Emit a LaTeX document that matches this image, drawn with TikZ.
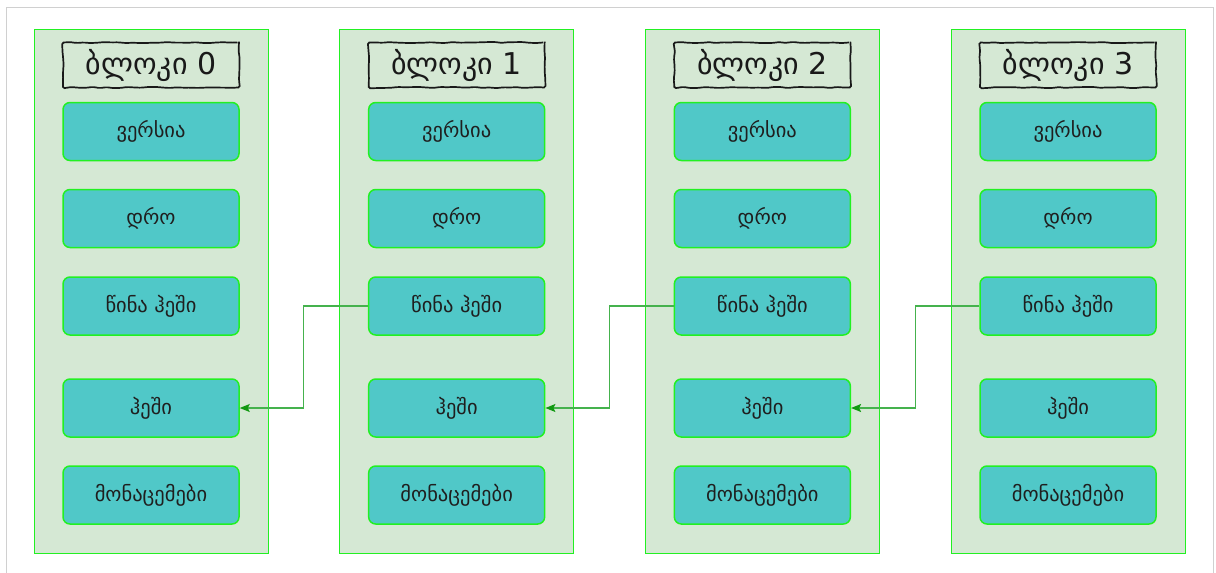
\documentclass[tikz,border=0pt]{standalone}
\usepackage{fontspec}
\newfontfamily\geo{DejaVu Sans}
\usetikzlibrary{decorations.pathmorphing,arrows.meta,calc}

\definecolor{colfill}{HTML}{D5E8D4}
\definecolor{edgegreen}{HTML}{22F022}
\definecolor{cellfill}{HTML}{50C8C8}
\definecolor{linkgreen}{HTML}{45B24D}
\definecolor{tipgreen}{HTML}{119911}
\definecolor{framegray}{HTML}{D0D0D0}

\tikzset{
  column/.style={draw=edgegreen, fill=colfill, line width=1pt,
    minimum width=234pt, minimum height=524pt, inner sep=0pt},
  cell/.style={draw=edgegreen, fill=cellfill, line width=1.5pt,
    rounded corners=7pt, minimum width=176pt, minimum height=58pt,
    inner sep=0pt, text=black!88, font=\geo\fontsize{20.5}{24}\selectfont},
  title/.style={draw=black!90, line width=1.7pt, minimum width=176pt,
    minimum height=45pt, inner sep=0pt,
    decorate, decoration={random steps, segment length=7pt, amplitude=0.6pt},
    rounded corners=1.5pt,
    text=black!90, font=\geo\fontsize{30}{32}\selectfont},
  link/.style={draw=linkgreen, line width=1.3pt,
    -{Stealth[length=10pt, width=8pt, inset=2pt, color=tipgreen]}}
}

\begin{document}
\begin{tikzpicture}[x=1pt, y=-1pt]
\pgfmathsetseed{7}
\useasboundingbox (0,0) rectangle (1216,573);
\coordinate (fa) at (6,575);
\coordinate (fb) at (6,7);
\coordinate (fc) at (1213,7);
\coordinate (fd) at (1213,575);
\draw[framegray, line width=1pt] (fa) -- (fb) -- (fc) -- (fd);

\foreach \i in {0,1,2,3} {
  \pgfmathsetmacro{\cx}{151 + 305.67*\i}
  \node[column] (c\i) at (\cx, 291) {};
  \node[title] (t\i) at (\cx, 65) {ბლოკი \i};
  \node[cell] (v\i) at (\cx, 131.5) {ვერსია};
  \node[cell] (d\i) at (\cx, 218.5) {დრო};
  \node[cell] (p\i) at (\cx, 306) {წინა ჰეში};
  \node[cell] (h\i) at (\cx, 408) {ჰეში};
  \node[cell] (m\i) at (\cx, 495) {მონაცემები};
}

% each block points back to the hash of the block before it
\foreach \i/\j in {1/0, 2/1, 3/2} {
  \coordinate (g\i) at ($(c\j.east)!0.5!(c\i.west)$);
  \draw[link] (p\i.west) -- (g\i |- p\i.west) -- (g\i |- h\j.east) -- (h\j.east);
}
\end{tikzpicture}
\end{document}
